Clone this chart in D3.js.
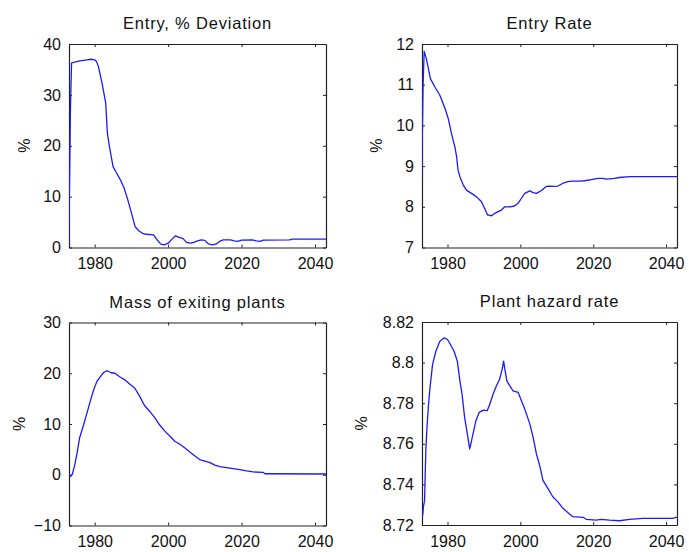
<!DOCTYPE html>
<html>
<head>
<meta charset="utf-8">
<script src="https://cdn.jsdelivr.net/npm/d3@7"></script>
<style>
  html, body { margin: 0; padding: 0; background: #fff; }
  svg { display: block; }
  text { font-family: "Liberation Sans", Arial, sans-serif; fill: #111; }
</style>
</head>
<body>
<svg id="chart" width="689" height="552"></svg>
<script>
// Shared time axis
const xDomain = [1973, 2043];
const xTicks = [1980, 2000, 2020, 2040];

// Entry, % deviation
const entryDevYears  = [1973.0, 1973.1, 1973.4, 1973.7, 1976.0, 1978.0, 1979.0, 1980.0, 1980.45, 1981.0, 1982.0, 1983.0, 1983.45, 1984.0, 1985.0, 1986.0, 1987.0, 1988.0, 1989.0, 1990.0, 1991.0, 1992.0, 1993.0, 1994.0, 1996.0, 1997.0, 1998.0, 1999.0, 2000.0, 2001.0, 2002.0, 2003.0, 2004.0, 2005.0, 2006.0, 2007.0, 2008.0, 2009.0, 2010.0, 2011.0, 2012.0, 2013.0, 2014.0, 2015.0, 2017.0, 2018.0, 2019.0, 2020.0, 2023.0, 2024.0, 2025.0, 2026.0, 2033.0, 2034.0, 2043.0];
const entryDevValues = [1.0, 10.0, 27.4, 36.3, 36.7, 36.9, 37.0, 36.9, 36.6, 35.6, 32.3, 28.4, 22.5, 19.9, 15.9, 14.6, 13.3, 11.7, 9.4, 6.8, 4.1, 3.3, 2.8, 2.6, 2.5, 1.5, 0.65, 0.5, 0.85, 1.6, 2.3, 2.0, 1.8, 1.0, 0.85, 1.0, 1.3, 1.5, 1.4, 0.7, 0.5, 0.65, 1.2, 1.5, 1.5, 1.3, 1.2, 1.45, 1.5, 1.3, 1.2, 1.45, 1.5, 1.65, 1.65];
const entryDevTicks  = [0, 10, 20, 30, 40];

// Entry rate
const entryRateYears  = [1973.0, 1973.05, 1973.3, 1973.6, 1974.2, 1975.3, 1976.5, 1977.9, 1979.3, 1980.2, 1981.1, 1982.0, 1982.5, 1982.9, 1983.4, 1984.3, 1985.2, 1986.6, 1987.9, 1989.3, 1990.2, 1991.0, 1992.1, 1993.0, 1993.9, 1994.8, 1995.7, 1997.1, 1998.4, 1999.4, 2000.3, 2001.2, 2002.6, 2003.5, 2004.4, 2005.8, 2007.1, 2008.2, 2009.1, 2010.3, 2011.7, 2013.1, 2014.4, 2016.3, 2017.6, 2019.5, 2021.3, 2022.6, 2023.6, 2025.8, 2027.2, 2030.0, 2043.0];
const entryRateValues = [8.7, 9.5, 11.0, 11.82, 11.64, 11.15, 10.95, 10.74, 10.42, 10.17, 9.80, 9.48, 9.23, 8.90, 8.74, 8.54, 8.41, 8.33, 8.25, 8.13, 7.96, 7.80, 7.78, 7.84, 7.88, 7.92, 8.00, 8.00, 8.02, 8.09, 8.21, 8.33, 8.39, 8.35, 8.33, 8.40, 8.50, 8.51, 8.50, 8.51, 8.58, 8.62, 8.63, 8.63, 8.64, 8.67, 8.70, 8.70, 8.68, 8.70, 8.72, 8.74, 8.74];
const entryRateTicks  = [7, 8, 9, 10, 11, 12];

// Mass of exiting plants
const exitMassYears  = [1973.0, 1973.4, 1973.9, 1974.5, 1975.2, 1975.9, 1977.0, 1977.9, 1978.8, 1979.7, 1980.6, 1981.5, 1982.5, 1983.4, 1984.5, 1985.5, 1986.8, 1988.2, 1989.5, 1990.9, 1992.3, 1993.6, 1995.0, 1996.4, 1997.7, 1999.1, 2000.5, 2001.8, 2003.2, 2004.5, 2005.9, 2007.3, 2008.6, 2010.0, 2011.4, 2012.7, 2014.1, 2015.9, 2017.7, 2019.5, 2021.4, 2023.2, 2025.9, 2026.4, 2043.0];
const exitMassValues = [0.1, -0.35, 0.1, 1.7, 4.3, 7.3, 9.9, 12.2, 14.5, 16.7, 18.4, 19.3, 20.2, 20.5, 20.1, 20.0, 19.3, 18.7, 17.9, 17.1, 15.4, 13.6, 12.5, 11.2, 9.8, 8.6, 7.6, 6.6, 6.0, 5.3, 4.5, 3.7, 3.0, 2.7, 2.4, 1.9, 1.6, 1.4, 1.2, 1.0, 0.75, 0.55, 0.45, 0.2, 0.15];
const exitMassTicks  = [-10, 0, 10, 20, 30];

// Plant hazard rate
const hazardYears  = [1973.0, 1973.2, 1973.4, 1973.7, 1974.06, 1974.4, 1974.8, 1975.2, 1975.9, 1976.8, 1977.9, 1979.1, 1980.0, 1980.8, 1981.8, 1982.7, 1983.4, 1984.0, 1984.7, 1985.6, 1986.1, 1986.8, 1987.8, 1988.7, 1989.8, 1990.9, 1991.6, 1992.5, 1993.4, 1994.3, 1995.0, 1995.4, 1995.8, 1996.3, 1997.1, 1998.0, 1999.4, 2000.3, 2001.2, 2002.6, 2003.5, 2004.4, 2005.3, 2006.2, 2007.6, 2008.9, 2010.3, 2011.7, 2013.1, 2014.4, 2017.2, 2018.1, 2020.8, 2022.2, 2024.5, 2027.2, 2030.0, 2033.6, 2041.8, 2042.7, 2043.0];
const hazardValues = [8.7257, 8.7249, 8.729, 8.732, 8.7575, 8.769, 8.7795, 8.7877, 8.7991, 8.8056, 8.8105, 8.8122, 8.8114, 8.8089, 8.8056, 8.8007, 8.791, 8.7844, 8.773, 8.7632, 8.7575, 8.7632, 8.7714, 8.7755, 8.7766, 8.7763, 8.7795, 8.7844, 8.7885, 8.7918, 8.7967, 8.8007, 8.7962, 8.791, 8.7885, 8.7861, 8.7853, 8.7812, 8.7771, 8.7698, 8.7632, 8.7551, 8.7494, 8.742, 8.7379, 8.7339, 8.7314, 8.7282, 8.726, 8.7241, 8.7238, 8.7228, 8.7224, 8.7228, 8.7224, 8.7221, 8.7228, 8.7233, 8.7233, 8.7238, 8.7238];
const hazardTicks  = [8.72, 8.74, 8.76, 8.78, 8.80, 8.82];

const panels = [
  { title: "Entry, % Deviation",     years: entryDevYears,  values: entryDevValues,  ticks: entryDevTicks,
    box: { x: 69,  y: 44,    w: 257, h: 203.5 }, labelX: 25 },
  { title: "Entry Rate",             years: entryRateYears, values: entryRateValues, ticks: entryRateTicks,
    box: { x: 422, y: 44,    w: 255, h: 203.5 }, labelX: 377 },
  { title: "Mass of exiting plants", years: exitMassYears,  values: exitMassValues,  ticks: exitMassTicks,
    box: { x: 69,  y: 322.5, w: 257, h: 203 },   labelX: 20 },
  { title: "Plant hazard rate",      years: hazardYears,    values: hazardValues,    ticks: hazardTicks,
    box: { x: 422, y: 322,   w: 255, h: 203 },   labelX: 362 }
];

const svg = d3.select("#chart");
const tickLen = 3;
const fmt = d3.format("~g");

panels.forEach((p, i) => {
  const b = p.box;
  const x = d3.scaleLinear().domain(xDomain).range([0, b.w]);
  const yExt = d3.extent(p.ticks);
  const y = d3.scaleLinear().domain(yExt).range([b.h, 0]);

  const g = svg.append("g").attr("transform", `translate(${b.x},${b.y})`);

  g.append("clipPath").attr("id", "clip" + i)
    .append("rect").attr("width", b.w).attr("height", b.h);

  // Axes on all four sides, ticks pointing inward
  const axBottom = d3.axisBottom(x).tickValues(xTicks).tickFormat(d3.format("d")).tickSizeInner(-tickLen).tickSizeOuter(0).tickPadding(8);
  const axTop    = d3.axisTop(x).tickValues(xTicks).tickFormat("").tickSizeInner(-tickLen).tickSizeOuter(0);
  const axLeft   = d3.axisLeft(y).tickValues(p.ticks).tickFormat(fmt).tickSizeInner(-tickLen).tickSizeOuter(0).tickPadding(8);
  const axRight  = d3.axisRight(y).tickValues(p.ticks).tickFormat("").tickSizeInner(-tickLen).tickSizeOuter(0);

  const gb = g.append("g").attr("transform", `translate(0,${b.h})`).call(axBottom);
  const gt = g.append("g").call(axTop);
  const gl = g.append("g").call(axLeft);
  const gr = g.append("g").attr("transform", `translate(${b.w},0)`).call(axRight);

  [gb, gt, gl, gr].forEach(a => {
    a.select(".domain").attr("stroke", "#222").attr("stroke-width", 1.2);
    a.selectAll(".tick line").attr("stroke", "#222").attr("stroke-width", 1);
    a.selectAll("text").attr("font-size", 16).attr("fill", "#111")
      .style("font-family", '"Liberation Sans", Arial, sans-serif');
  });
  gb.selectAll(".tick text").attr("dy", "0.85em");

  // Series line
  const line = d3.line().x((d, k) => x(p.years[k])).y(d => y(d));
  g.append("path")
    .datum(p.values)
    .attr("clip-path", `url(#clip${i})`)
    .attr("fill", "none")
    .attr("stroke", "#1a1aff")
    .attr("stroke-width", 1.3)
    .attr("stroke-linejoin", "round")
    .attr("d", line);

  // Title
  g.append("text")
    .attr("x", b.w / 2)
    .attr("y", -15)
    .attr("text-anchor", "middle")
    .attr("font-size", 16.5)
    .attr("letter-spacing", 0.8)
    .text(p.title);

  // Y label
  svg.append("text")
    .attr("transform", `translate(${p.labelX + 5},${b.y + b.h / 2}) rotate(-90)`)
    .attr("text-anchor", "middle")
    .attr("font-size", 16)
    .text("%");
});
</script>
</body>
</html>
